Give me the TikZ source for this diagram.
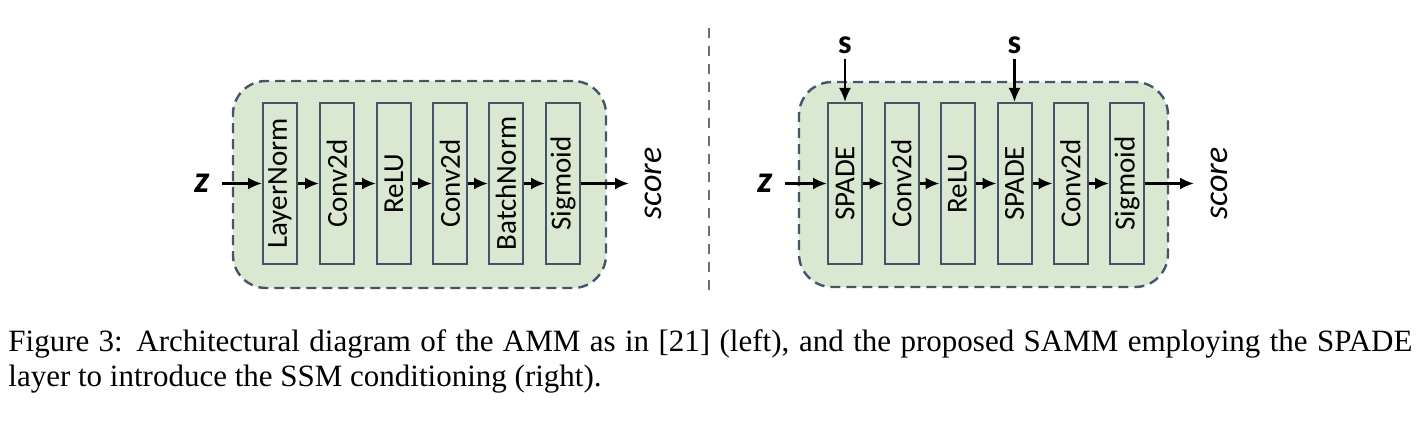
\documentclass[tikz,border=0pt]{standalone}
\usepackage{fontspec}
\setmainfont{Liberation Serif}
\newfontfamily\calfont{Carlito}
\usetikzlibrary{arrows.meta}
\definecolor{grpfill}{RGB}{218,232,210}
\definecolor{bord}{RGB}{68,84,106}
\definecolor{sepgray}{RGB}{110,110,110}
\tikzset{
  grp/.style={draw=bord, fill=grpfill, line width=1.2pt, dash pattern=on 5pt off 3pt, rounded corners=16.5pt, inner sep=0pt},
  blk/.style={draw=bord, line width=1pt, rotate=90, minimum width=80.5pt, minimum height=17pt, inner sep=0pt, font=\calfont\fontsize{14.5}{16}\selectfont},
  conn/.style={line width=1.1pt, -{Latex[length=7pt,width=6pt]}},
  inlab/.style={font=\calfont\itshape\bfseries\fontsize{19}{21}\selectfont, inner xsep=6pt, inner ysep=0pt},
  slab/.style={font=\calfont\bfseries\fontsize{17}{19}\selectfont, inner xsep=0pt, inner ysep=2.5pt},
  outlab/.style={font=\calfont\itshape\fontsize{17}{19}\selectfont, rotate=90, inner sep=0pt},
  sepline/.style={draw=sepgray, line width=1.2pt, dash pattern=on 5pt off 4pt}
}
\begin{document}
\begin{tikzpicture}[x=0.5pt,y=-0.5pt]
\useasboundingbox (0,0) rectangle (1420,422);
% left group
\node[grp, minimum width=186.5pt, minimum height=103.5pt] (gl) at (419.5,184.5) {};
\node[blk] (l1) at (280,183.5) {LayerNorm};
\node[blk] (l2) at (337,183.5) {Conv2d};
\node[blk] (l3) at (394,183.5) {ReLU};
\node[blk] (l4) at (450,183.5) {Conv2d};
\node[blk] (l5) at (506,183.5) {BatchNorm};
\node[blk] (l6) at (563,183.5) {Sigmoid};
\node[inlab] (zl) at (202,183.5) {z};
\coordinate (ol) at (629,183.5);
\node[outlab] (sl) at (653,183.5) {score};
\draw[conn] (zl) -- (l1);
\draw[conn] (l1) -- (l2);
\draw[conn] (l2) -- (l3);
\draw[conn] (l3) -- (l4);
\draw[conn] (l4) -- (l5);
\draw[conn] (l5) -- (l6);
\draw[conn] (l6) -- (ol);
% separator
\coordinate (sa) at (709,28);
\coordinate (sb) at (709,292);
\draw[sepline] (sa) -- (sb);
% right group
\node[grp, minimum width=184.5pt, minimum height=102.5pt] (gr) at (983.5,184.5) {};
\node[blk] (r1) at (845,183.5) {SPADE};
\node[blk] (r2) at (901.5,183.5) {Conv2d};
\node[blk] (r3) at (957.5,183.5) {ReLU};
\node[blk] (r4) at (1014.5,183.5) {SPADE};
\node[blk] (r5) at (1070.5,183.5) {Conv2d};
\node[blk] (r6) at (1127,183.5) {Sigmoid};
\node[inlab] (zr) at (765,183.5) {z};
\coordinate (or) at (1194,183.5);
\node[outlab] (sr) at (1219,183.5) {score};
\node[slab] (s1) at (845,45) {s};
\node[slab] (s2) at (1014.5,45) {s};
\draw[conn] (zr) -- (r1);
\draw[conn] (r1) -- (r2);
\draw[conn] (r2) -- (r3);
\draw[conn] (r3) -- (r4);
\draw[conn] (r4) -- (r5);
\draw[conn] (r5) -- (r6);
\draw[conn] (r6) -- (or);
\draw[conn] (s1.south) -- (r1.east);
\draw[conn] (s2.south) -- (r4.east);
% caption
\node[anchor=north west, inner sep=0pt, text width=702pt, align=justify,
      font=\fontsize{15.5}{17.5}\selectfont] (cap) at (8,329)
  {Figure 3: Architectural diagram of the AMM as in [21] (left), and the proposed SAMM employing the SPADE layer to introduce the SSM conditioning (right).};
\end{tikzpicture}
\end{document}
